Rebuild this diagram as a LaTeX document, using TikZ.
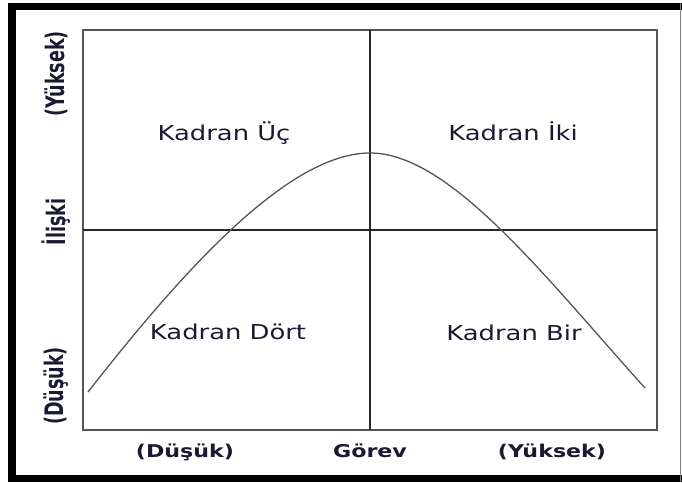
\documentclass[tikz,border=0pt]{standalone}
\usepackage{fontspec}
\setmainfont{DejaVu Sans}
\usetikzlibrary{positioning}
\usepackage{xcolor}
\definecolor{labelink}{RGB}{25, 25, 50}
\definecolor{boxgray}{RGB}{85, 85, 85}

\begin{document}
\begin{tikzpicture}[x=1pt, y=-1pt,
  kadran/.style={font=\fontsize{20.5}{24}\selectfont, text=labelink, xscale=1.26, anchor=base, inner sep=0pt},
  axislabel/.style={font=\bfseries\fontsize{17.6}{20}\selectfont, text=labelink, xscale=1.26, anchor=base, inner sep=0pt},
  sidelabel/.style={font=\bfseries\fontsize{17.6}{20}\selectfont, text=labelink, xscale=1.45, rotate=90, inner sep=0pt},
  curve/.style={draw=boxgray, line width=1.3pt}]
\useasboundingbox (0,0) rectangle (682,482);
% outer frame
\fill (8,3) rectangle (16,482);
\fill (8,3) rectangle (682,10);
\fill (8,475) rectangle (682,482);
\draw[line width=1.5pt, gray] (680.5,3) -- (680.5,482);
% plot box and axes
\coordinate (nw) at (83,30);
\coordinate (se) at (657,430);
\coordinate (midtop) at (370,30);
\coordinate (midbot) at (370,430);
\coordinate (midleft) at (83,230);
\coordinate (midright) at (657,230);
\draw[boxgray, line width=2pt] (nw) rectangle (se);
\draw[black!85, line width=1.4pt] (midtop) -- (midbot);
\draw[black!85, line width=1.4pt] (midleft) -- (midright);
% curve
\coordinate (start) at (88,392);
\coordinate (peak) at (370,153);
\coordinate (end) at (645,388);
\draw[curve] (start) .. controls (186.5,265.9) and (290,153) .. (peak)
  .. controls (450,153) and (544.6,276.6) .. (end);
% quadrant labels
\node[kadran] (k3) at (224,140) {Kadran Üç};
\node[kadran] (k2) at (513,140) {Kadran İki};
\node[kadran] (k4) at (228,339) {Kadran Dört};
\node[kadran] (k1) at (514,340) {Kadran Bir};
% axis labels
\node[axislabel] (xlow) at (185,457) {(Düşük)};
\node[axislabel] (xname) at (370,457) {Görev};
\node[axislabel] (xhigh) at (552,457) {(Yüksek)};
\node[sidelabel] (yhigh) at (56,74) {(Yüksek)};
\node[sidelabel] (yname) at (56,222) {İlişki};
\node[sidelabel] (ylow) at (56,386) {(Düşük)};
\end{tikzpicture}
\end{document}
